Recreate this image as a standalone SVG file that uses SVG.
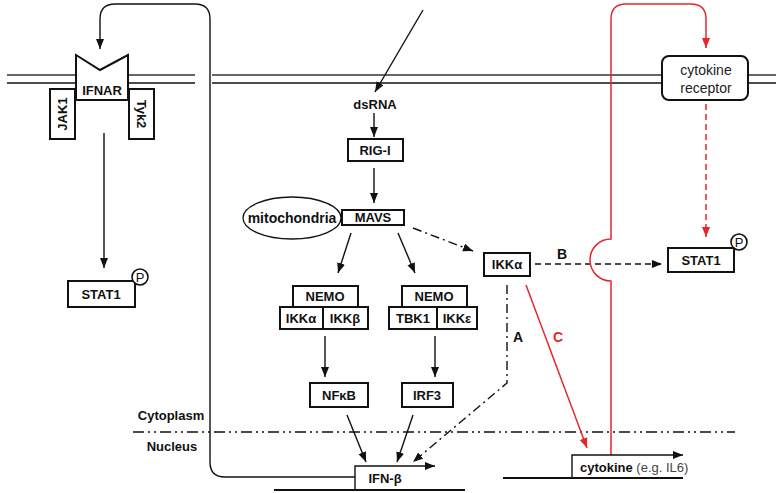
<svg xmlns="http://www.w3.org/2000/svg" width="776" height="493" viewBox="0 0 776 493">
<style>
.b{font-family:"Liberation Sans",Arial,sans-serif;font-weight:bold;font-size:13px;fill:#111;text-anchor:middle}
.n{font-family:"Liberation Sans",Arial,sans-serif;font-size:14px;fill:#222;text-anchor:middle}
.box{fill:#fff;stroke:#111;stroke-width:2}
.c{fill:none;stroke:#111;stroke-width:1.4}
.r{fill:none;stroke:#e8262a;stroke-width:1.5}
.dd{stroke-dasharray:9 4 2 4}
.da{stroke-dasharray:6 4}
</style>
<defs>
<marker id="ah" markerUnits="userSpaceOnUse" markerWidth="11" markerHeight="9" refX="10" refY="4" orient="auto"><path d="M0,0 L10,4 L0,8 z" fill="#111"/></marker>
<marker id="ahr" markerUnits="userSpaceOnUse" markerWidth="11" markerHeight="9" refX="10" refY="4" orient="auto"><path d="M0,0 L10,4 L0,8 z" fill="#e8262a"/></marker>
</defs>
<rect width="776" height="493" fill="#fff"/>
<g id="membrane">
<line x1="7" y1="75" x2="195" y2="75" stroke="#666" stroke-width="2"/>
<line x1="7" y1="83" x2="195" y2="83" stroke="#111" stroke-width="1.5"/>
<line x1="212" y1="75" x2="776" y2="75" stroke="#666" stroke-width="2"/>
<line x1="212" y1="83" x2="776" y2="83" stroke="#111" stroke-width="1.5"/>
</g>
<g id="compartments">
<line x1="133" y1="432" x2="735" y2="432" stroke="#111" stroke-width="1.4" stroke-dasharray="11 4 2 4 2 4"/>
<text class="b" x="171" y="420">Cytoplasm</text>
<text class="b" x="172" y="451">Nucleus</text>
</g>
<g id="connectors">
<path class="c" d="M355,477 H225 Q210,477 210,462 V19 Q210,4 195,4 H115 Q100,4 100,19 V49" marker-end="url(#ah)"/>
<line class="c" x1="104" y1="133" x2="104" y2="268" marker-end="url(#ah)"/>
<line class="c" x1="423" y1="10" x2="375" y2="92" marker-end="url(#ah)"/>
<line class="c" x1="374" y1="113" x2="374" y2="137" marker-end="url(#ah)"/>
<line class="c" x1="374" y1="168" x2="374" y2="203" marker-end="url(#ah)"/>
<line class="c dd" x1="413" y1="228" x2="473" y2="251" marker-end="url(#ah)"/>
<line class="c" x1="351" y1="233" x2="338" y2="273" marker-end="url(#ah)"/>
<line class="c" x1="398" y1="233" x2="415" y2="273" marker-end="url(#ah)"/>
<line class="c" x1="325" y1="336" x2="325" y2="377" marker-end="url(#ah)"/>
<line class="c" x1="435" y1="336" x2="435" y2="377" marker-end="url(#ah)"/>
<line class="c" x1="347" y1="415" x2="366" y2="462" marker-end="url(#ah)"/>
<line class="c" x1="413" y1="415" x2="397" y2="462" marker-end="url(#ah)"/>
<path class="c dd" d="M507,285 V383 L413,462" marker-end="url(#ah)"/>
<line class="c da" x1="535" y1="264" x2="662" y2="264" marker-end="url(#ah)"/>
<path class="r" d="M611,455 V281 A21,21 0 0 1 611,239 V19 Q611,4 626,4 H691 Q706,4 706,19 V48" marker-end="url(#ahr)"/>
<line class="r" x1="706" y1="104" x2="706" y2="237" stroke-dasharray="6 4" marker-end="url(#ahr)"/>
<line class="r" x1="526" y1="285" x2="587" y2="448" marker-end="url(#ahr)"/>
<text class="b" x="518" y="342" style="font-size:14px">A</text>
<text class="b" x="562" y="259" style="font-size:14px">B</text>
<text class="b" x="558" y="342" style="font-size:14px;fill:#e8262a">C</text>
</g>
<g id="IFNAR">
<polygon class="box" points="76,55 100,70 128,55 128,100 76,100"/>
<text class="b" x="102" y="95">IFNAR</text>
</g>
<g id="JAK1">
<rect class="box" x="50" y="89" width="25" height="50"/>
<text class="b" transform="translate(67,114) rotate(-90)" x="0" y="0">JAK1</text>
</g>
<g id="Tyk2">
<rect class="box" x="129" y="89" width="25" height="50"/>
<text class="b" transform="translate(137,114) rotate(90)" x="0" y="0">Tyk2</text>
</g>
<g id="STAT1-left">
<rect class="box" x="68" y="281" width="67" height="26"/>
<text class="b" x="101" y="299">STAT1</text>
<circle cx="140" cy="277" r="8" fill="#fff" stroke="#111" stroke-width="1.6"/>
<text x="140" y="282" style="font-family:'Liberation Sans',Arial,sans-serif;font-size:13px;text-anchor:middle;fill:#111">P</text>
</g>
<g id="dsRNA">
<text class="b" x="375" y="109">dsRNA</text>
</g>
<g id="RIG-I">
<rect class="box" x="348" y="139" width="55" height="22"/>
<text class="b" x="375" y="155">RIG-I</text>
</g>
<g id="mitochondria">
<ellipse cx="292" cy="218" rx="49" ry="21" fill="#fff" stroke="#111" stroke-width="1.3"/>
<text class="b" x="292" y="223" style="font-size:14px">mitochondria</text>
</g>
<g id="MAVS">
<rect class="box" x="342" y="210" width="62" height="15"/>
<text class="b" x="373" y="222">MAVS</text>
</g>
<g id="IKKa-right">
<rect class="box" x="484" y="253" width="46" height="23"/>
<text class="b" x="507" y="269">IKKα</text>
</g>
<g id="NEMO-complex-1">
<rect class="box" x="293" y="286" width="65" height="21"/>
<text class="b" x="325" y="301">NEMO</text>
<rect class="box" x="280" y="307" width="43" height="22"/>
<text class="b" x="301" y="323">IKKα</text>
<rect class="box" x="323" y="307" width="45" height="22"/>
<text class="b" x="345" y="323">IKKβ</text>
</g>
<g id="NEMO-complex-2">
<rect class="box" x="402" y="286" width="65" height="21"/>
<text class="b" x="434" y="301">NEMO</text>
<rect class="box" x="389" y="307" width="48" height="22"/>
<text class="b" x="413" y="323">TBK1</text>
<rect class="box" x="437" y="307" width="40" height="22"/>
<text class="b" x="457" y="323">IKKε</text>
</g>
<g id="NFkB">
<rect class="box" x="310" y="383" width="58" height="24"/>
<text class="b" x="339" y="400">NFκB</text>
</g>
<g id="IRF3">
<rect class="box" x="402" y="383" width="51" height="24"/>
<text class="b" x="427" y="400">IRF3</text>
</g>
<g id="IFN-b">
<line x1="274" y1="490" x2="465" y2="490" stroke="#111" stroke-width="2"/>
<path class="c" d="M355,490 V466 H435" stroke-width="1.6" marker-end="url(#ah)"/>
<text class="b" x="385" y="483">IFN-β</text>
</g>
<g id="cytokine-receptor">
<rect x="662" y="56" width="86" height="44" rx="7" fill="#fff" stroke="#111" stroke-width="2"/>
<text class="n" x="706" y="75">cytokine</text>
<text class="n" x="706" y="93">receptor</text>
</g>
<g id="STAT1-right">
<rect class="box" x="668" y="248" width="66" height="24"/>
<text class="b" x="701" y="265">STAT1</text>
<circle cx="739" cy="242" r="8" fill="#fff" stroke="#111" stroke-width="1.6"/>
<text x="739" y="247" style="font-family:'Liberation Sans',Arial,sans-serif;font-size:13px;text-anchor:middle;fill:#111">P</text>
</g>
<g id="cytokine-gene">
<line x1="503" y1="478" x2="683" y2="478" stroke="#111" stroke-width="2"/>
<path class="c" d="M572,478 V455 H683" stroke-width="1.6" marker-end="url(#ah)"/>
<text x="580" y="472" style="font-family:'Liberation Sans',Arial,sans-serif;font-size:13px"><tspan font-weight="bold" fill="#111">cytokine</tspan><tspan fill="#444"> (e.g. IL6)</tspan></text>
</g>
</svg>
